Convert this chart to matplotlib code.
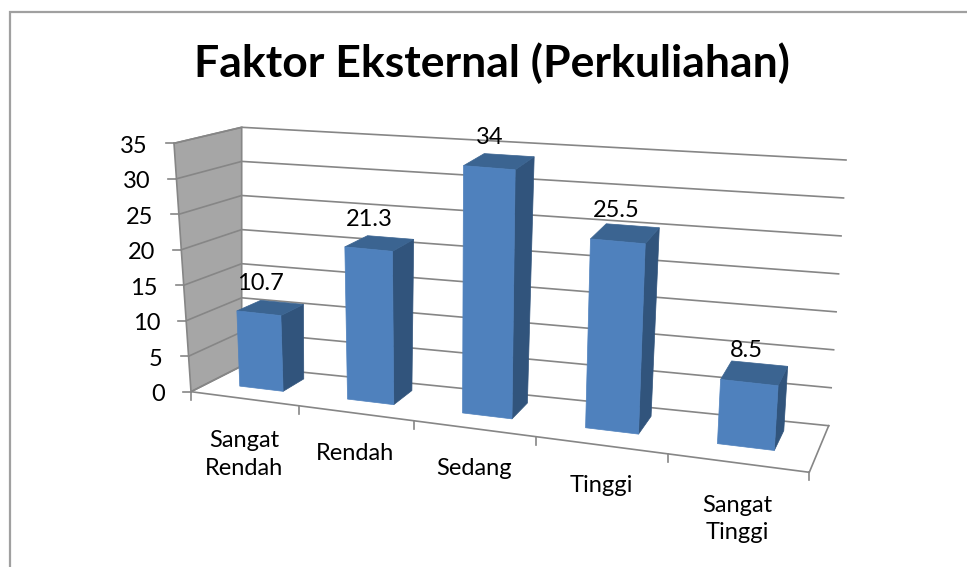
import matplotlib
matplotlib.use('Agg')
import matplotlib.pyplot as plt
from matplotlib.patches import Polygon

title = 'Faktor Eksternal (Perkuliahan)'
categories = ['Sangat\nRendah', 'Rendah', 'Sedang', 'Tinggi', 'Sangat\nTinggi']
values = [10.7, 21.3, 34, 25.5, 8.5]
value_labels = ['10.7', '21.3', '34', '25.5', '8.5']
y_ticks = [0, 5, 10, 15, 20, 25, 30, 35]

W, H = 967, 567
FRONT = '#4f81bd'
SIDE = '#31547c'
TOP = '#3b6491'
GRID = '#868686'
WALL = '#a6a6a6'
Z_MAX = 35
X_WARP = 0.844  # categories get wider towards the right

# corners of the chart box as they sit in the picture
floor_front = [(191, 391.7), (809.3, 472.3)]
floor_back = [(241.7, 366), (828.7, 425.7)]
ceil_front = [(174, 143.3), (827, 203)]
ceil_back = [(241.7, 127.3), (846, 160)]


def lerp(a, b, t):
    return a[0] + (b[0] - a[0]) * t, a[1] + (b[1] - a[1]) * t


# x across (0-1), d depth (0-1), z value
def project(x, d, z):
    u = X_WARP * x / (1 + (X_WARP - 1) * x)
    low = lerp(lerp(floor_front[0], floor_front[1], u), lerp(floor_back[0], floor_back[1], u), d)
    high = lerp(lerp(ceil_front[0], ceil_front[1], u), lerp(ceil_back[0], ceil_back[1], u), d)
    return lerp(low, high, z / Z_MAX)


fig = plt.figure(figsize=(W / 100, H / 100), dpi=100)
ax = fig.add_axes([0, 0, 1, 1])
ax.set_xlim(0, W)
ax.set_ylim(H, 0)
ax.axis('off')
plt.rcParams['font.family'] = ['Lato', 'DejaVu Sans']

# outer frame
ax.plot([9.5, 9.5, W], [H, 12, 12], color='#a0a0a0', lw=1.6, solid_joinstyle='miter', zorder=1)

# side wall
wall = [project(0, 0, 0), project(0, 0, Z_MAX), project(0, 1, Z_MAX), project(0, 1, 0)]
ax.add_patch(Polygon(wall, closed=True, facecolor=WALL, edgecolor=GRID, lw=1.2, zorder=2))

# gridlines and value axis
for v in y_ticks:
    pts = [project(0, 0, v), project(0, 1, v), project(1, 1, v)]
    ax.plot([p[0] for p in pts], [p[1] for p in pts], color=GRID, lw=1.2, zorder=3)
    x0, y0 = pts[0]
    ax.plot([x0 - 8, x0], [y0, y0], color=GRID, lw=1.2, zorder=3)
    ax.text(x0 - 26, y0 + 3, str(v), ha='right', va='center', fontsize=17, color='black', zorder=6)

# floor and category axis
floor = [project(0, 0, 0), project(1, 0, 0), project(1, 1, 0)]
ax.plot([p[0] for p in floor], [p[1] for p in floor], color=GRID, lw=1.2, zorder=3)
for i in range(len(categories) + 1):
    x0, y0 = project(i / len(categories), 0, 0)
    ax.plot([x0, x0], [y0, y0 + 8], color=GRID, lw=1.2, zorder=3)

# bars
bar_w = 0.205 / len(categories)
for i, val in enumerate(values):
    c = (i + 0.5) / len(categories)
    x0, x1 = c - bar_w, c + bar_w
    d0, d1 = 0.36, 0.8
    side = [project(x1, d0, 0), project(x1, d1, 0), project(x1, d1, val), project(x1, d0, val)]
    top = [project(x0, d0, val), project(x1, d0, val), project(x1, d1, val), project(x0, d1, val)]
    front = [project(x0, d0, 0), project(x1, d0, 0), project(x1, d0, val), project(x0, d0, val)]
    for poly, col in [(side, SIDE), (top, TOP), (front, FRONT)]:
        ax.add_patch(Polygon(poly, closed=True, facecolor=col, edgecolor=col, lw=0.5, zorder=4 + i * 0.01))
    lx, ly = project(c, 0.5, val)
    ax.text(lx - 6, ly - 26, value_labels[i], ha='center', va='center', fontsize=17, color='black', zorder=6)

# category labels
for i, cat in enumerate(categories):
    lx, ly = project((i + 0.5) / len(categories), 0, 0)
    off = 56 if '\n' in cat else 40
    ax.text(lx, ly + off, cat, ha='center', va='center', fontsize=17, color='black', linespacing=1.4, zorder=6)

ax.text(492, 63, title, ha='center', va='center', fontsize=32, fontweight='bold', color='black', zorder=6)

fig.savefig('out.png', dpi=100)
